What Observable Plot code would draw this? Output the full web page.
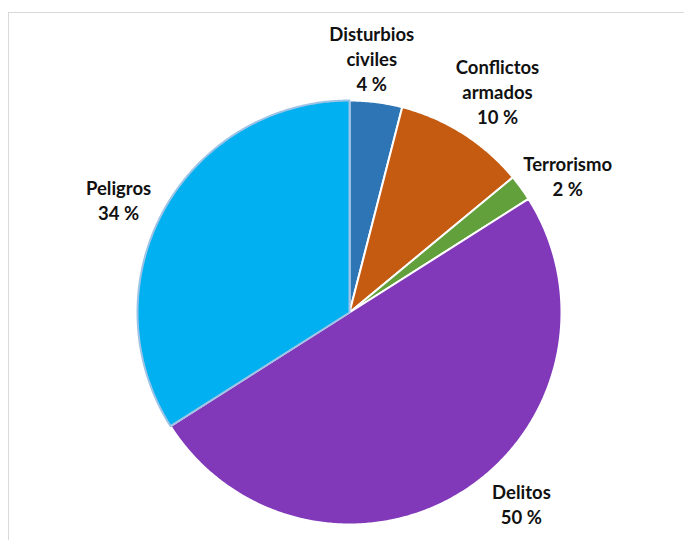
<!DOCTYPE html>
<html>
<head>
<meta charset="utf-8">
<script src="https://cdn.jsdelivr.net/npm/d3@7"></script>
<script src="https://cdn.jsdelivr.net/npm/@observablehq/plot@0.6"></script>
<style>
  html, body { margin: 0; padding: 0; background: #fff; overflow: hidden; }
  #wrap { position: relative; width: 684px; height: 540px; }
  #frame { position: absolute; left: 8px; top: 12px; width: 700px; height: 600px; border: 1px solid #d9d9d9; }
  #chart { position: absolute; left: 0; top: 0; }
</style>
</head>
<body>
<div id="wrap"><div id="frame"></div><div id="chart"></div></div>
<script>
const categories = ["Disturbios civiles", "Conflictos armados", "Terrorismo", "Delitos", "Peligros"];
const labels = ["Disturbios\nciviles", "Conflictos\narmados", "Terrorismo", "Delitos", "Peligros"];
const values = [4, 10, 2, 50, 34];
const colors = ["#2E75B6", "#C55A11", "#62A03C", "#8139BA", "#00B0F0"];
const strokes = ["#ffffff", "#ffffff", "#ffffff", "#ffffff", "#9DC3E6"];

const W = 684, H = 540, R = 212, cx = 349, cy = 312;
// layout helpers (angle offsets / radii for labels, like Excel's best-fit)
const labelAngleShift = [-2.2, 1.4, 3.9, -9.6, -2.7];
const labelRadius = [1.205, 1.255, 1.215, 1.212, 1.213];

const pie = d3.pie().sort(null).value(d => d.value)(categories.map((c, i) => ({name: c, value: values[i], i})));
const polys = [];
[0, 1, 2, 3, 4].forEach(k => {
  const a = pie[k];
  const pts = [{slice: k, x: 0, y: 0}];
  const n = Math.max(4, Math.ceil((a.endAngle - a.startAngle) / (Math.PI / 360)));
  for (let j = 0; j <= n; j++) {
    const t = a.startAngle + (a.endAngle - a.startAngle) * j / n;
    pts.push({slice: k, x: Math.sin(t), y: Math.cos(t)});
  }
  pts.push({slice: k, x: 0, y: 0});
  polys.push(...pts);
});

const textData = pie.map((a, k) => {
  const mid = (a.startAngle + a.endAngle) / 2 + labelAngleShift[k] * Math.PI / 180;
  const r = labelRadius[k];
  return {x: r * Math.sin(mid), y: r * Math.cos(mid), text: labels[k] + "\n" + values[k] + " %"};
});

const plot = Plot.plot({
  width: W, height: H,
  margin: 0,
  x: {domain: [-cx / R, (W - cx) / R], axis: null},
  y: {domain: [-(H - cy) / R, cy / R], axis: null},
  color: {type: "identity"},
  style: {background: "transparent"},
  marks: [
    Plot.line(polys.filter(d => d.slice !== 4), {
      x: "x", y: "y", z: "slice",
      fill: d => colors[d.slice], stroke: d => strokes[d.slice],
      strokeWidth: 2, strokeLinejoin: "round"
    }),
    Plot.line(polys.filter(d => d.slice === 4), {
      x: "x", y: "y", z: "slice",
      fill: d => colors[d.slice], stroke: d => strokes[d.slice],
      strokeWidth: 2, strokeLinejoin: "round"
    }),
    Plot.text(textData, {
      x: "x", y: "y", text: "text",
      fontFamily: "Lato, 'Open Sans', sans-serif", fontWeight: "bold", fontSize: 18.5,
      lineHeight: 1.35, fill: "#111", textAnchor: "middle", lineAnchor: "middle"
    })
  ]
});
document.getElementById("chart").appendChild(plot);
</script>
</body>
</html>
